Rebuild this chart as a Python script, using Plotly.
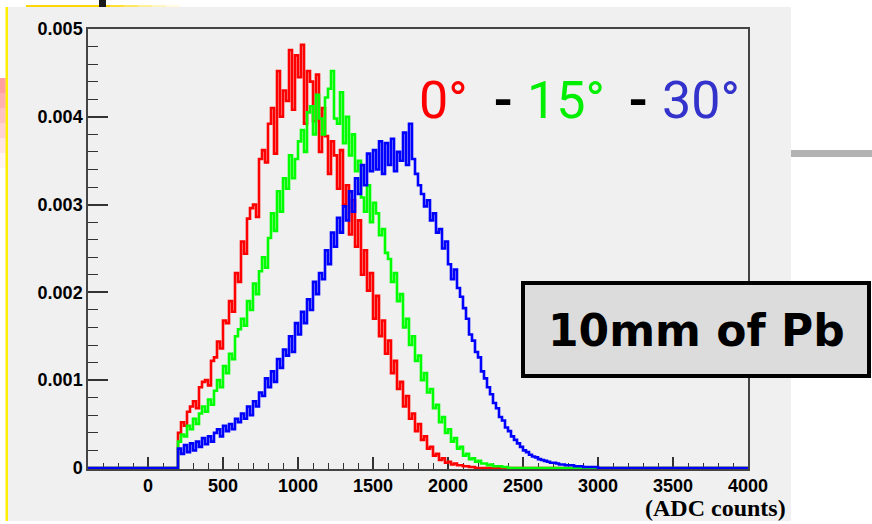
import plotly.graph_objects as go

# ---------------- data (values in units of 1e-5, 20-count bins starting at 200) ----------------
X_MIN, X_MAX = -400, 4000
BIN_START = 200
BIN_W = 20
SCALE = 1e-5

red_0deg = [40, 52, 48, 64, 70, 76, 68, 92, 98, 100, 94, 122, 126, 144, 136, 168, 165, 190, 178, 222,
            212, 258, 244, 284, 296, 300, 286, 352, 362, 348, 392, 410, 358, 452, 400, 430, 418, 476, 408, 470,
            445, 482, 392, 452, 440, 395, 448, 360, 410, 378, 335, 372, 356, 318, 362, 300, 322, 266, 305, 252,
            282, 220, 248, 202, 222, 170, 196, 150, 168, 130, 145, 108, 122, 90, 98, 70, 82, 56, 62, 42,
            50, 32, 36, 22, 24, 14, 16, 9, 11, 6, 7, 4, 5, 3, 3, 2, 2, 1, 1, 0]

green_15deg = [30, 38, 36, 48, 44, 56, 50, 62, 70, 64, 78, 72, 88, 100, 92, 116, 108, 130, 124, 150,
               158, 170, 162, 190, 180, 210, 198, 224, 240, 228, 262, 290, 270, 315, 292, 330, 318, 356, 330, 352,
               372, 385, 360, 405, 412, 380, 425, 398, 380, 422, 432, 452, 398, 392, 428, 370, 400, 356, 380, 338,
               350, 308, 292, 322, 280, 302, 290, 265, 272, 245, 238, 212, 222, 190, 198, 160, 170, 140, 150, 122,
               128, 100, 108, 86, 90, 68, 72, 52, 58, 40, 44, 30, 34, 22, 24, 14, 16, 10, 11, 7,
               8, 5, 5, 3, 4, 2, 2, 2, 1, 1, 0]

blue_30deg = [22, 16, 26, 18, 28, 20, 30, 24, 34, 27, 36, 30, 40, 44, 36, 48, 42, 50, 44, 56,
              52, 62, 56, 70, 60, 76, 70, 86, 82, 102, 92, 110, 98, 124, 114, 135, 128, 150, 132, 165,
              152, 178, 165, 192, 180, 212, 198, 222, 215, 248, 232, 268, 252, 285, 268, 298, 282, 315, 292, 330,
              312, 345, 322, 358, 338, 362, 340, 372, 335, 370, 345, 375, 338, 360, 350, 382, 345, 392, 352, 335,
              322, 312, 298, 305, 282, 290, 268, 272, 250, 258, 232, 215, 226, 205, 195, 182, 170, 152, 145, 132,
              126, 110, 102, 92, 84, 74, 68, 58, 54, 46, 42, 36, 32, 28, 24, 20, 18, 15, 13, 12,
              10, 9, 8, 7, 6, 6, 5, 4, 4, 3, 3, 3, 2, 2, 2, 1, 1, 1, 1, 1, 0]

x_tick_vals = [0, 500, 1000, 1500, 2000, 2500, 3000, 3500, 4000]
x_tick_text = ["0", "500", "1000", "1500", "2000", "2500", "3000", "3500", "4000"]
y_tick_vals = [0, 0.001, 0.002, 0.003, 0.004, 0.005]
y_tick_text = ["0", "0.001", "0.002", "0.003", "0.004", "0.005"]

series = [("0°", red_0deg, "#ff0000"), ("15°", green_15deg, "#00ff00"), ("30°", blue_30deg, "#0000ff")]

# ---------------- figure geometry ----------------
W, H = 872, 524
L, R, T, B = 88, 748, 29, 469   # plot area in pixels


def px(xp):
    return (xp - L) / (R - L)


def py(yp):
    return (B - yp) / (B - T)


fig = go.Figure()

for name, vals, col in series:
    xs = [X_MIN]
    ys = [0.0]
    for i, v in enumerate(vals):
        xs.append(BIN_START + i * BIN_W)
        ys.append(v * SCALE)
    xs.append(X_MAX)
    ys.append(0.0)
    fig.add_trace(go.Scatter(x=xs, y=ys, mode="lines", line=dict(color=col, width=2.6, shape="hv"),
                             name=name, showlegend=False, hoverinfo="skip"))

shapes = []
# slide background decorations
shapes.append(dict(type="rect", xref="paper", yref="paper", x0=px(7), x1=px(791), y0=py(7), y1=py(521),
                   fillcolor="#f0f0f0", line=dict(width=0), layer="below"))
shapes.append(dict(type="rect", xref="paper", yref="paper", x0=px(5.5), x1=px(8), y0=py(7), y1=py(521),
                   fillcolor="#ffee00", line=dict(width=0), layer="below"))
shapes.append(dict(type="rect", xref="paper", yref="paper", x0=px(26), x1=px(110), y0=py(5), y1=py(7),
                   fillcolor="#ffd700", line=dict(width=0), layer="below"))
for k, op in enumerate([0.8, 0.6, 0.4, 0.25, 0.12]):
    shapes.append(dict(type="rect", xref="paper", yref="paper", x0=px(110 + k * 14), x1=px(124 + k * 14),
                       y0=py(5), y1=py(7), fillcolor="#ffd700", opacity=op, line=dict(width=0), layer="below"))
for k, op in enumerate([0.55, 0.45, 0.35, 0.25, 0.15, 0.07]):
    shapes.append(dict(type="rect", xref="paper", yref="paper", x0=px(0), x1=px(5.5), y0=py(78 + k * 15),
                       y1=py(93 + k * 15), fillcolor="#ff5050", opacity=op, line=dict(width=0), layer="below"))
shapes.append(dict(type="rect", xref="paper", yref="paper", x0=px(99), x1=px(106), y0=py(0), y1=py(7),
                   fillcolor="#1a1a1a", line=dict(width=0), layer="below"))
shapes.append(dict(type="rect", xref="paper", yref="paper", x0=px(791), x1=px(872), y0=py(150), y1=py(157),
                   fillcolor="#b3b3b3", line=dict(width=0), layer="below"))
# label box
shapes.append(dict(type="rect", xref="paper", yref="paper", x0=px(523), x1=px(869), y0=py(283), y1=py(376),
                   fillcolor="#dcdcdc", line=dict(color="#000000", width=4), layer="above"))

annotations = []
annotations.append(dict(text="10mm of Pb", xref="paper", yref="paper", x=px(696), y=py(330),
                        xanchor="center", yanchor="middle", showarrow=False,
                        font=dict(family="DejaVu Sans", size=44, color="#000000", weight="bold")))
annotations.append(dict(text="(ADC counts)", xref="paper", yref="paper", x=px(788), y=py(508),
                        xanchor="right", yanchor="middle", showarrow=False,
                        font=dict(family="Liberation Serif", size=24, color="#000000", weight="bold")))
for txt, x0, col, wt in [("0°", 417, "#ff0000", "normal"), ("-", 491, "#000000", "bold"),
                         ("15°", 525, "#00ee00", "normal"), ("-", 626, "#000000", "bold"),
                         ("30°", 660, "#3333cc", "normal")]:
    annotations.append(dict(text=txt, xref="paper", yref="paper", x=px(x0), y=py(100),
                            xanchor="left", yanchor="middle", showarrow=False,
                            font=dict(family="Roboto", size=52, color=col, weight=wt)))

tickfont = dict(family="Liberation Sans", size=18, color="#000000", weight="bold")

fig.update_layout(
    width=W, height=H,
    margin=dict(l=L, r=W - R, t=T, b=H - B, pad=0),
    paper_bgcolor="#ffffff",
    plot_bgcolor="#f0f0f0",
    shapes=shapes,
    annotations=annotations,
    xaxis=dict(range=[X_MIN, X_MAX], tickvals=x_tick_vals, ticktext=x_tick_text, ticks="inside",
               ticklen=12, tickwidth=1.5, tickcolor="#333333", showgrid=False, zeroline=False,
               showline=True, mirror=True, linecolor="#444444", linewidth=1.5, tickfont=tickfont,
               layer="below traces",
               minor=dict(ticks="inside", ticklen=6, tickwidth=1.2, tickcolor="#333333", dtick=100,
                          tick0=0, showgrid=False)),
    yaxis=dict(range=[-0.000012, 0.005], tickvals=y_tick_vals, ticktext=y_tick_text, ticks="inside",
               ticklen=20, tickwidth=1.5, tickcolor="#333333", showgrid=False, zeroline=False,
               showline=True, mirror=True, linecolor="#444444", linewidth=1.5, tickfont=tickfont,
               layer="below traces",
               minor=dict(ticks="inside", ticklen=10, tickwidth=1.2, tickcolor="#333333", dtick=0.0002,
                          tick0=0, showgrid=False)),
)

fig.write_html("out.html")
